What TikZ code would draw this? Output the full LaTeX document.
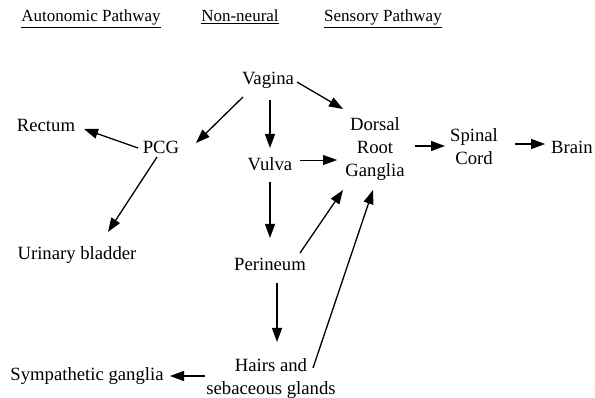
\documentclass[tikz,border=0pt]{standalone}
\usepackage{fontspec}
\setmainfont{Liberation Serif}
\usetikzlibrary{arrows.meta,calc}
\begin{document}
\begin{tikzpicture}[x=1pt,y=-1pt,
  lbl/.style={anchor=base,inner sep=0pt,font=\fontsize{18.7}{23}\selectfont},
  ml/.style={anchor=north,inner sep=0pt,align=center,font=\fontsize{18.7}{23}\selectfont},
  head/.style={anchor=base,inner sep=0pt,font=\fontsize{17}{20}\selectfont},
  arr/.style={line width=1.3pt,-{Triangle[length=14pt,width=10pt]}},
  thinarr/.style={line width=0.8pt,-{Triangle[length=14pt,width=10pt]}}]
\useasboundingbox (0,0) rectangle (595,398);
\node[head] (h1) at (91,22) {\underline{Autonomic Pathway}};
\node[head] (h2) at (240,22) {\underline{Non-neural}};
\node[head] (h3) at (383,22) {\underline{Sensory Pathway}};
\node[lbl] (vagina) at (268,85) {Vagina};
\node[lbl] (rectum) at (46,132) {Rectum};
\node[lbl] (pcg) at (161,154) {PCG};
\node[lbl] (vulva) at (270,171) {Vulva};
\node[ml] (drg) at (375,117) {Dorsal\\Root\\Ganglia};
\node[ml] (spinal) at (474,128) {Spinal\\Cord};
\node[lbl] (brain) at (572,154) {Brain};
\node[lbl] (urinary) at (77,260) {Urinary bladder};
\node[lbl] (perineum) at (270,271) {Perineum};
\node[ml] (hairs) at (271,358) {Hairs and\\sebaceous glands};
\node[lbl] (symp) at (87,381) {Sympathetic ganglia};
\draw[arr] ($(vagina.base)+(-25,12)$) -- ($(pcg.base)+(35,-11)$);
\draw[arr] ($(vagina.base)+(2,15)$) -- ($(vulva.base)+(0,-23)$);
\draw[arr] ($(vagina.base)+(29,-3)$) -- ($(drg.north)+(-32,-8)$);
\draw[arr] ($(pcg.base)+(-23,-6)$) -- ($(rectum.base)+(38,-3)$);
\draw[arr] ($(pcg.base)+(-4,3)$) -- ($(urinary.base)+(31,-28)$);
\draw[thinarr] ($(vulva.base)+(30,-11)$) -- ($(drg.north)+(-38,43)$);
\draw[arr] ($(drg.north)+(40,29)$) -- ($(spinal.north)+(-29,18)$);
\draw[arr] ($(spinal.north)+(41,16)$) -- ($(brain.base)+(-27,-10)$);
\draw[arr] ($(vulva.base)+(0,11)$) -- ($(perineum.base)+(0,-33)$);
\draw[arr] ($(perineum.base)+(30,-18)$) -- ($(drg.north)+(-32,73)$);
\draw[arr] ($(hairs.north)+(42,10)$) -- ($(drg.north)+(-2,73)$);
\draw[arr] ($(perineum.base)+(7,12)$) -- ($(hairs.north)+(6,-16)$);
\draw[arr] ($(hairs.north)+(-66,18)$) -- ($(symp.base)+(83,-5)$);
\end{tikzpicture}
\end{document}
